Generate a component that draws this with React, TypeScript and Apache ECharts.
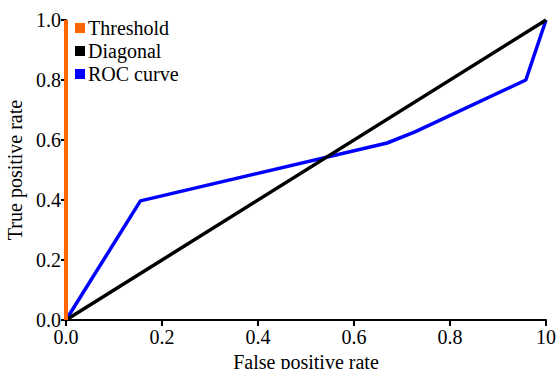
import React, { useEffect, useRef } from "react";
import * as echarts from "echarts";

const xTickLabels = ["0.0", "0.2", "0.4", "0.6", "0.8", "10"];
const yTickLabels = ["0.0", "0.2", "0.4", "0.6", "0.8", "1.0"];
const thresholdData: [number, number][] = [[0, 0], [0, 1]];
const diagonalData: [number, number][] = [[0, 0], [1, 1]];
const rocData: [number, number][] = [
  [0, 0],
  [0.155, 0.397],
  [0.669, 0.59],
  [0.727, 0.627],
  [0.958, 0.8],
  [1, 1],
];

export default function App() {
  const ref = useRef<HTMLDivElement>(null);
  useEffect(() => {
    if (!ref.current) return;
    const chart = echarts.init(ref.current, null, { renderer: "svg" });
    const font = "Liberation Serif";
    const fs = 20;
    const ts = { fontFamily: font, fontSize: fs, color: "#000", fontWeight: "normal" as const };
    chart.setOption({
      animation: false,
      textStyle: { fontFamily: font, fontSize: fs },
      grid: {
        left: 66,
        right: 13,
        top: 20,
        bottom: 49,
        containLabel: false,
        outerBoundsMode: "none",
      },
      legend: {
        orient: "vertical",
        left: 70,
        top: 13,
        itemWidth: 10,
        itemHeight: 10,
        itemGap: 3,
        icon: "rect",
        textStyle: { ...ts, padding: [0, 0, 0, -2] },
        data: ["Threshold", "Diagonal", "ROC curve"],
      },
      xAxis: {
        type: "value",
        min: 0,
        max: 1,
        interval: 0.2,
        name: "False positive rate",
        nameLocation: "middle",
        nameGap: 30,
        nameTextStyle: ts,
        splitLine: { show: false },
        axisLine: { lineStyle: { color: "#000", width: 2 } },
        axisTick: { length: 6, lineStyle: { color: "#000", width: 2 } },
        axisLabel: {
          ...ts,
          margin: 7,
          formatter: (v: number) => xTickLabels[Math.round(v / 0.2)] ?? "",
        },
      },
      yAxis: {
        type: "value",
        min: 0,
        max: 1,
        interval: 0.2,
        name: "True positive rate",
        nameLocation: "middle",
        nameGap: 34,
        nameTextStyle: ts,
        splitLine: { show: false },
        axisLine: { lineStyle: { color: "#000", width: 2 } },
        axisTick: { length: 5, lineStyle: { color: "#000", width: 2 } },
        axisLabel: {
          ...ts,
          margin: 5,
          formatter: (v: number) => yTickLabels[Math.round(v / 0.2)] ?? "",
        },
      },
      series: [
        {
          name: "Threshold",
          type: "line",
          data: thresholdData,
          symbol: "none",
          clip: false,
          z: 5,
          itemStyle: { color: "#FF6600" },
          lineStyle: { color: "#FF6600", width: 4 },
        },
        {
          name: "Diagonal",
          type: "line",
          data: diagonalData,
          symbol: "none",
          clip: false,
          z: 4,
          itemStyle: { color: "#000000" },
          lineStyle: { color: "#000000", width: 3.5 },
        },
        {
          name: "ROC curve",
          type: "line",
          data: rocData,
          symbol: "none",
          clip: false,
          z: 3,
          itemStyle: { color: "#0000FF" },
          lineStyle: { color: "#0000FF", width: 3.5 },
        },
      ],
    });
    return () => chart.dispose();
  }, []);
  return <div ref={ref} style={{ width: 559, height: 369, position: "absolute", left: 0, top: 0 }} />;
}
